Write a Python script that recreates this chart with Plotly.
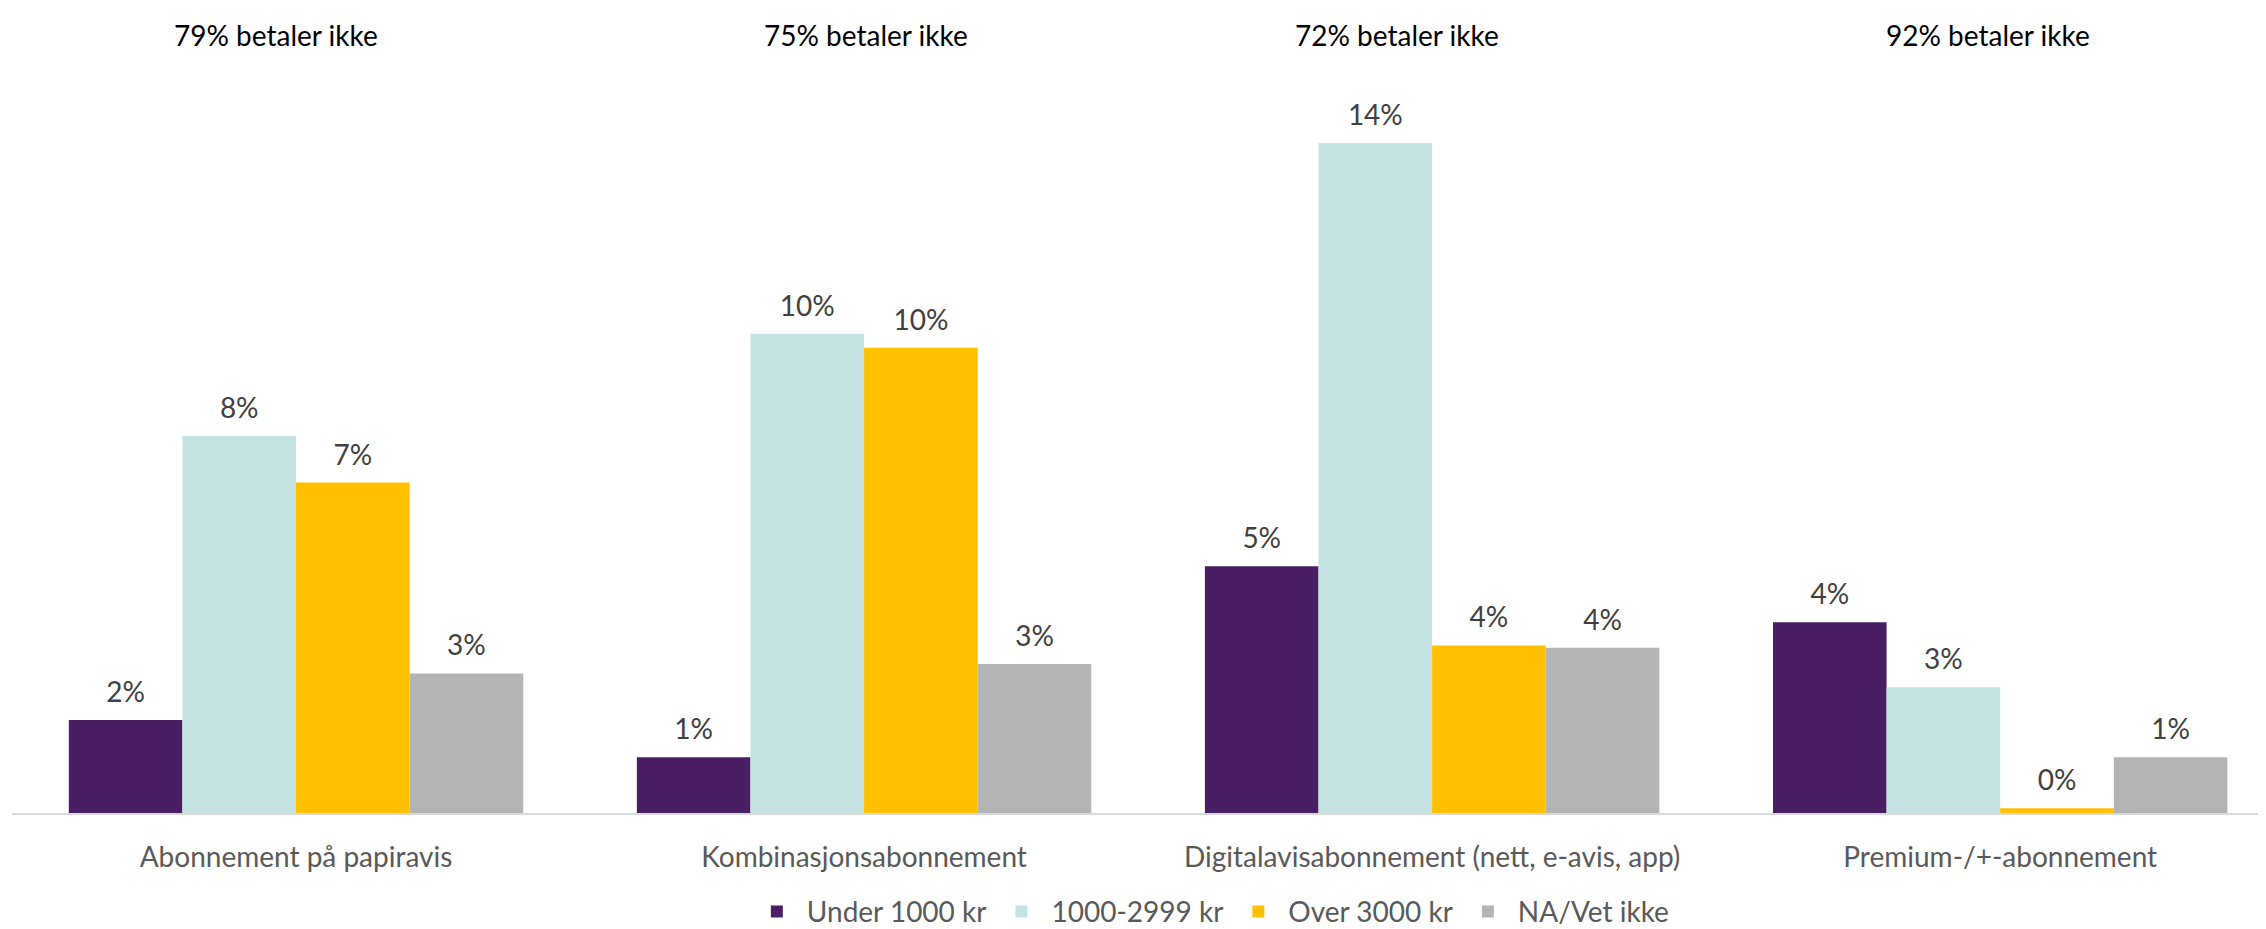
import plotly.graph_objects as go

categories = [
    "Abonnement på papiravis",
    "Kombinasjonsabonnement",
    "Digitalavisabonnement (nett, e-avis, app)",
    "Premium-/+-abonnement",
]
not_paying = ["79% betaler ikke", "75% betaler ikke", "72% betaler ikke", "92% betaler ikke"]

series_names = ["Under 1000 kr", "1000-2999 kr", "Over 3000 kr", "NA/Vet ikke"]
under_1000 = [2.0, 1.2, 5.3, 4.1]
mid_1000_2999 = [8.1, 10.3, 14.4, 2.7]
over_3000 = [7.1, 10.0, 3.6, 0.1]
na_vet_ikke = [3.0, 3.2, 3.55, 1.2]

COLORS = ["#4A1E63", "#C5E3E3", "#FFC000", "#B4B4B4"]
FONT = "Lato, 'Open Sans', sans-serif"

fig = go.Figure()
series = [under_1000, mid_1000_2999, over_3000, na_vet_ikke]
for i, (name, vals, color) in enumerate(zip(series_names, series, COLORS)):
    fig.add_trace(go.Bar(
        x=categories, y=vals, name=name, offsetgroup=str(i),
        marker=dict(color=color, line=dict(width=0)),
        hoverinfo="skip",
    ))
# value labels: invisible markers push the text a bit further above the bar top
for i, vals in enumerate(series):
    fig.add_trace(go.Scatter(
        x=categories, y=vals, offsetgroup=str(i), mode="markers+text",
        marker=dict(size=16, opacity=0), showlegend=False, hoverinfo="skip",
        text=[f"{v:.0f}%" for v in vals], textposition="top center",
        textfont=dict(size=28, color="#404040", family=FONT),
        cliponaxis=False,
    ))

# "betaler ikke" headers above each group
for cat, label, shift in zip(categories, not_paying, [-20, 2, -35, -12]):
    fig.add_annotation(
        x=cat, xref="x", y=1.104, yref="paper", text=label,
        showarrow=False, xshift=shift, yanchor="middle",
        font=dict(size=28, color="#000000", family=FONT),
    )

fig.update_layout(
    width=2266, height=929,
    paper_bgcolor="white", plot_bgcolor="white",
    barmode="group", bargap=0.2, bargroupgap=0,
    scattermode="group", scattergap=0.2,
    margin=dict(l=4, r=0, t=100, b=115),
    font=dict(family=FONT, color="#595959", size=28),
    legend=dict(
        orientation="h", x=0.53, xanchor="center", y=-0.14, yanchor="middle",
        font=dict(size=28, color="#595959"), itemwidth=50, traceorder="normal",
    ),
)
fig.update_xaxes(
    range=[-0.5, 3.482], showline=True, linecolor="#D9D9D9", linewidth=2,
    ticks="", ticklabelstandoff=18, tickfont=dict(size=28, color="#595959"),
)
fig.update_yaxes(range=[0, 15.15], visible=False, showgrid=False, zeroline=False)

fig.write_html("out.html")
